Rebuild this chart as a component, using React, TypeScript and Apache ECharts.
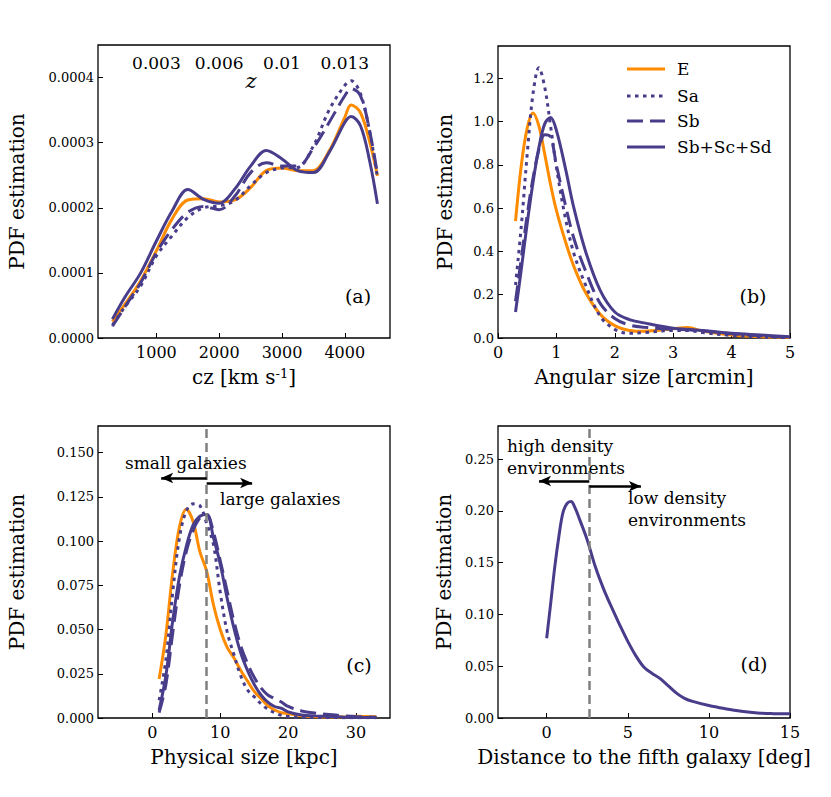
import React, { useEffect, useRef } from "react";
import * as echarts from "echarts";

const ORANGE = "#ff8c00";
const PURPLE = "#483d8b";
const SERIF = "DejaVu Serif";

// (a) redshift distribution
const czKms = [300, 500, 750, 1000, 1250, 1500, 1750, 2000, 2250, 2500, 2750, 3000, 3250, 3500, 3750, 4000, 4100, 4250, 4400, 4520];
const czE = [0.25e-4, 0.52e-4, 0.88e-4, 1.34e-4, 1.83e-4, 2.12e-4, 2.14e-4, 2.09e-4, 2.12e-4, 2.31e-4, 2.57e-4, 2.61e-4, 2.57e-4, 2.57e-4, 2.87e-4, 3.39e-4, 3.58e-4, 3.46e-4, 3.0e-4, 2.49e-4];
const czSa = [0.2e-4, 0.48e-4, 0.8e-4, 1.26e-4, 1.57e-4, 1.85e-4, 2.0e-4, 2.03e-4, 2.11e-4, 2.34e-4, 2.54e-4, 2.61e-4, 2.62e-4, 2.95e-4, 3.5e-4, 3.88e-4, 3.95e-4, 3.75e-4, 3.15e-4, 2.47e-4];
const czSb = [0.18e-4, 0.48e-4, 0.85e-4, 1.31e-4, 1.67e-4, 1.93e-4, 2.02e-4, 1.97e-4, 2.18e-4, 2.54e-4, 2.69e-4, 2.64e-4, 2.64e-4, 2.92e-4, 3.31e-4, 3.72e-4, 3.83e-4, 3.72e-4, 3.16e-4, 2.52e-4];
const czLate = [0.29e-4, 0.63e-4, 1.0e-4, 1.49e-4, 1.95e-4, 2.28e-4, 2.13e-4, 2.07e-4, 2.29e-4, 2.64e-4, 2.88e-4, 2.75e-4, 2.57e-4, 2.54e-4, 2.85e-4, 3.31e-4, 3.4e-4, 3.26e-4, 2.7e-4, 2.06e-4];
const czTicks = [1000, 2000, 3000, 4000];
const zTickLabels = ["0.003", "0.006", "0.01", "0.013"];
const czPdfTicks = [0, 0.0001, 0.0002, 0.0003, 0.0004];

// (b) angular size
const angArcmin = [0.3, 0.4, 0.5, 0.6, 0.7, 0.8, 0.9, 1.0, 1.15, 1.3, 1.5, 1.75, 2.0, 2.25, 2.5, 3.0, 3.25, 3.5, 4.0, 4.5, 5.0];
const angE = [0.54, 0.8, 0.97, 1.04, 0.98, 0.85, 0.71, 0.59, 0.45, 0.33, 0.21, 0.11, 0.057, 0.035, 0.031, 0.043, 0.048, 0.032, 0.014, 0.006, 0.003];
const angSa = [0.245, 0.52, 0.85, 1.13, 1.25, 1.16, 0.98, 0.79, 0.56, 0.39, 0.245, 0.1, 0.04, 0.022, 0.025, 0.035, 0.035, 0.025, 0.012, 0.005, 0.002];
const angSb = [0.17, 0.37, 0.57, 0.74, 0.87, 0.94, 0.93, 0.8, 0.62, 0.46, 0.31, 0.16, 0.09, 0.06, 0.05, 0.04, 0.038, 0.033, 0.02, 0.01, 0.004];
const angLate = [0.12, 0.32, 0.53, 0.72, 0.88, 0.99, 1.02, 0.96, 0.79, 0.6, 0.4, 0.22, 0.12, 0.085, 0.07, 0.045, 0.04, 0.035, 0.022, 0.014, 0.006];
const angTicks = [0, 1, 2, 3, 4, 5];
const angPdfTicks = [0, 0.2, 0.4, 0.6, 0.8, 1.0, 1.2];

// (c) physical size
const physKpc = [1, 2, 3, 4, 5, 6, 7, 8, 9, 10, 11, 12, 13, 14, 15, 16, 17, 18, 19, 20, 22, 24, 26, 28, 30, 33];
const physE = [0.022, 0.047, 0.082, 0.108, 0.118, 0.111, 0.094, 0.083, 0.064, 0.05, 0.04, 0.034, 0.027, 0.021, 0.015, 0.011, 0.007, 0.0045, 0.003, 0.0025, 0.0012, 0.0007, 0.0005, 0.0005, 0.001, 0.0007];
const physSa = [0.01, 0.033, 0.071, 0.102, 0.117, 0.121, 0.12, 0.11, 0.098, 0.071, 0.049, 0.036, 0.024, 0.016, 0.012, 0.008, 0.005, 0.003, 0.0015, 0.0008, 0.0004, 0.0003, 0.0003, 0.0002, 0.0002, 0.0002];
const physSb = [0.003, 0.019, 0.048, 0.075, 0.094, 0.106, 0.113, 0.115, 0.105, 0.089, 0.072, 0.055, 0.041, 0.031, 0.023, 0.017, 0.013, 0.011, 0.009, 0.0065, 0.004, 0.0028, 0.002, 0.0013, 0.0008, 0.0004];
const physLate = [0.0045, 0.024, 0.055, 0.08, 0.097, 0.109, 0.114, 0.115, 0.102, 0.087, 0.068, 0.051, 0.037, 0.027, 0.019, 0.013, 0.009, 0.0065, 0.0055, 0.0035, 0.0017, 0.0012, 0.0008, 0.0005, 0.0003, 0.0003];
const physTicks = [0, 10, 20, 30];
const physPdfTicks = [0, 0.025, 0.05, 0.075, 0.1, 0.125, 0.15];
const physSplit = 8;

// (d) distance to the fifth nearest galaxy
const distDeg = [0, 0.25, 0.5, 0.75, 1.0, 1.25, 1.5, 1.75, 2.0, 2.5, 3.0, 3.5, 4.0, 4.5, 5.0, 5.5, 6.0, 6.5, 7.0, 7.5, 8.0, 8.5, 9.0, 10, 11, 12, 13, 14, 15];
const distPdf = [0.077, 0.111, 0.146, 0.175, 0.198, 0.207, 0.209, 0.203, 0.193, 0.172, 0.146, 0.125, 0.107, 0.09, 0.074, 0.06, 0.049, 0.043, 0.038, 0.031, 0.024, 0.019, 0.016, 0.012, 0.009, 0.0065, 0.0048, 0.0042, 0.004];
const distTicks = [0, 5, 10, 15];
const distPdfTicks = [0, 0.05, 0.1, 0.15, 0.2, 0.25];
const distSplit = 2.63;

const legendNames = ["E", "Sa", "Sb", "Sb+Sc+Sd"];

const lineTypes: Record<string, { color: string; type: any }> = {
  E: { color: ORANGE, type: "solid" },
  Sa: { color: PURPLE, type: [3.5, 4.5] },
  Sb: { color: PURPLE, type: [16, 7] },
  "Sb+Sc+Sd": { color: PURPLE, type: "solid" },
};

const zip = (xs: number[], ys: number[]) => xs.map((x, i) => [x, ys[i]]);

const curve = (name: string, grid: number, xs: number[], ys: number[], style = name) => ({
  type: "line",
  name,
  xAxisIndex: grid,
  yAxisIndex: grid,
  data: zip(xs, ys),
  symbol: "none",
  showSymbol: false,
  smooth: 0.35,
  z: 3,
  itemStyle: { color: lineTypes[style].color },
  lineStyle: { width: 3, color: lineTypes[style].color, type: lineTypes[style].type, cap: "butt" },
});

const tickStyle = { show: true, inside: true, length: 5, lineStyle: { color: "#000", width: 1 } };
const nameStyle = { fontFamily: SERIF, fontSize: 20, color: "#000", rich: { sup: { fontFamily: SERIF, fontSize: 13, verticalAlign: "top" } } };

const xAxisOf = (grid: number, min: number, max: number, ticks: number[], name: string) => ({
  type: "value",
  gridIndex: grid,
  min,
  max,
  name,
  nameLocation: "middle",
  nameGap: 29,
  nameTextStyle: nameStyle,
  axisLine: { show: false, onZero: false },
  splitLine: { show: false },
  axisTick: { ...tickStyle, customValues: ticks },
  axisLabel: { color: "#000", fontFamily: SERIF, fontSize: 16, margin: 6, customValues: ticks, formatter: (v: number) => String(v) },
});

const yAxisOf = (grid: number, max: number, ticks: number[], digits: number, gap: number) => ({
  type: "value",
  gridIndex: grid,
  min: 0,
  max,
  name: "PDF estimation",
  nameLocation: "middle",
  nameGap: gap,
  nameTextStyle: nameStyle,
  axisLine: { show: false, onZero: false },
  splitLine: { show: false },
  axisTick: { ...tickStyle, customValues: ticks },
  axisLabel: { color: "#000", fontFamily: SERIF, fontSize: 13, margin: 4, customValues: ticks, formatter: (v: number) => v.toFixed(digits) },
});

const arrowLine = { color: "#000", width: 2.5, type: "solid" };
const splitLineStyle = { color: "#808080", width: 2.5, type: [9, 5] };
const arrowEnd = { symbol: "arrow", symbolSize: [8, 12] };

const txt = (text: string, x: number, y: number, size: number, align = "left", extra: any = {}) => ({
  type: "text",
  x,
  y,
  z: 10,
  style: { text, fontFamily: SERIF, fontSize: size, fill: "#000", align, verticalAlign: "middle", textAlign: align, textVerticalAlign: "middle", ...extra },
});

// hand-drawn legend for panel (b), so the dash patterns show in the keys
const legendGraphic = () =>
  legendNames.flatMap((name, i) => {
    const y = [69, 96, 121, 147][i];
    const t = lineTypes[name];
    return [
      {
        type: "line",
        z: 10,
        shape: { x1: 627, y1: y, x2: 665, y2: y },
        style: { stroke: t.color, lineWidth: 3, lineDash: Array.isArray(t.type) ? t.type : null, lineCap: "butt" },
      },
      txt(name, 677, y, 17),
    ];
  });

const App: React.FC = () => {
  const chartRef = useRef<HTMLDivElement>(null);

  useEffect(() => {
    const dom = chartRef.current;
    if (!dom) return;
    const chart = echarts.init(dom, undefined, { renderer: "svg" });

    const gridBox = { show: true, borderColor: "#000", borderWidth: 1.3, backgroundColor: "transparent", containLabel: false };

    const option: any = {
      animation: false,
      backgroundColor: "#fff",
      textStyle: { fontFamily: SERIF },
      grid: [
        { ...gridBox, left: 98, top: 45, width: 292, height: 293 },
        { ...gridBox, left: 498, top: 46, width: 292, height: 292 },
        { ...gridBox, left: 98, top: 426, width: 292, height: 292 },
        { ...gridBox, left: 498, top: 426, width: 292, height: 292 },
      ],
      xAxis: [
        xAxisOf(0, 70, 4720, czTicks, "cz [km s{sup|-1}]"),
        xAxisOf(1, 0, 5, angTicks, "Angular size [arcmin]"),
        xAxisOf(2, -8, 35, physTicks, "Physical size [kpc]"),
        xAxisOf(3, -3, 15, distTicks, "Distance to the fifth galaxy [deg]"),
        {
          type: "value",
          gridIndex: 0,
          position: "top",
          min: 70,
          max: 4720,
          axisLine: { show: false, onZero: false },
          axisTick: { show: false },
          splitLine: { show: false },
          axisLabel: {
            inside: true,
            margin: 9,
            color: "#000",
            fontFamily: SERIF,
            fontSize: 17,
            customValues: czTicks,
            formatter: (v: number) => zTickLabels[czTicks.indexOf(v)] ?? "",
          },
        },
      ],
      yAxis: [
        yAxisOf(0, 0.00045, czPdfTicks, 4, 71),
        yAxisOf(1, 1.35, angPdfTicks, 1, 43),
        yAxisOf(2, 0.165, physPdfTicks, 3, 71),
        yAxisOf(3, 0.282, distPdfTicks, 2, 44),
      ],
      series: [
        curve("E", 0, czKms, czE),
        curve("Sa", 0, czKms, czSa),
        curve("Sb", 0, czKms, czSb),
        curve("Sb+Sc+Sd", 0, czKms, czLate),
        curve("E", 1, angArcmin, angE),
        curve("Sa", 1, angArcmin, angSa),
        curve("Sb", 1, angArcmin, angSb),
        curve("Sb+Sc+Sd", 1, angArcmin, angLate),
        curve("E", 2, physKpc, physE),
        curve("Sa", 2, physKpc, physSa),
        curve("Sb", 2, physKpc, physSb),
        curve("Sb+Sc+Sd", 2, physKpc, physLate),
        curve("Fifth neighbour", 3, distDeg, distPdf, "Sb+Sc+Sd"),
        {
          type: "line",
          name: "size split",
          xAxisIndex: 2,
          yAxisIndex: 2,
          data: [],
          z: 5,
          markLine: {
            silent: true,
            animation: false,
            symbol: ["none", "none"],
            label: { show: false },
            data: [
              { xAxis: physSplit, lineStyle: splitLineStyle },
              [{ coord: [physSplit, 0.1356], lineStyle: arrowLine }, { coord: [1.3, 0.1356], ...arrowEnd }],
              [{ coord: [physSplit, 0.1328], lineStyle: arrowLine }, { coord: [14.7, 0.1328], ...arrowEnd }],
            ],
          },
        },
        {
          type: "line",
          name: "density split",
          xAxisIndex: 3,
          yAxisIndex: 3,
          data: [],
          z: 5,
          markLine: {
            silent: true,
            animation: false,
            symbol: ["none", "none"],
            label: { show: false },
            data: [
              { xAxis: distSplit, lineStyle: splitLineStyle },
              [{ coord: [distSplit, 0.2289], lineStyle: arrowLine }, { coord: [-0.47, 0.2289], ...arrowEnd }],
              [{ coord: [distSplit, 0.2238], lineStyle: arrowLine }, { coord: [5.81, 0.2238], ...arrowEnd }],
            ],
          },
        },
      ],
      graphic: [
        ...legendGraphic(),
        txt("(a)", 358, 296, 19, "center"),
        txt("(b)", 753, 296, 19, "center"),
        txt("(c)", 359, 665, 19, "center"),
        txt("(d)", 754, 664, 19, "center"),
        txt("z", 251, 81, 21, "center", { fontStyle: "italic" }),
        txt("small galaxies", 125, 463, 17),
        txt("large galaxies", 220, 499, 17),
        txt("high density\nenvironments", 507, 457, 17, "left", { lineHeight: 22 }),
        txt("low density\nenvironments", 628, 509, 17, "left", { lineHeight: 22 }),
      ],
    };

    chart.setOption(option);
    return () => {
      chart.dispose();
    };
  }, []);

  return (
    <div
      ref={chartRef}
      style={{ position: "fixed", left: 0, top: 0, width: "831px", height: "797px", background: "#fff" }}
    />
  );
};

export default App;
